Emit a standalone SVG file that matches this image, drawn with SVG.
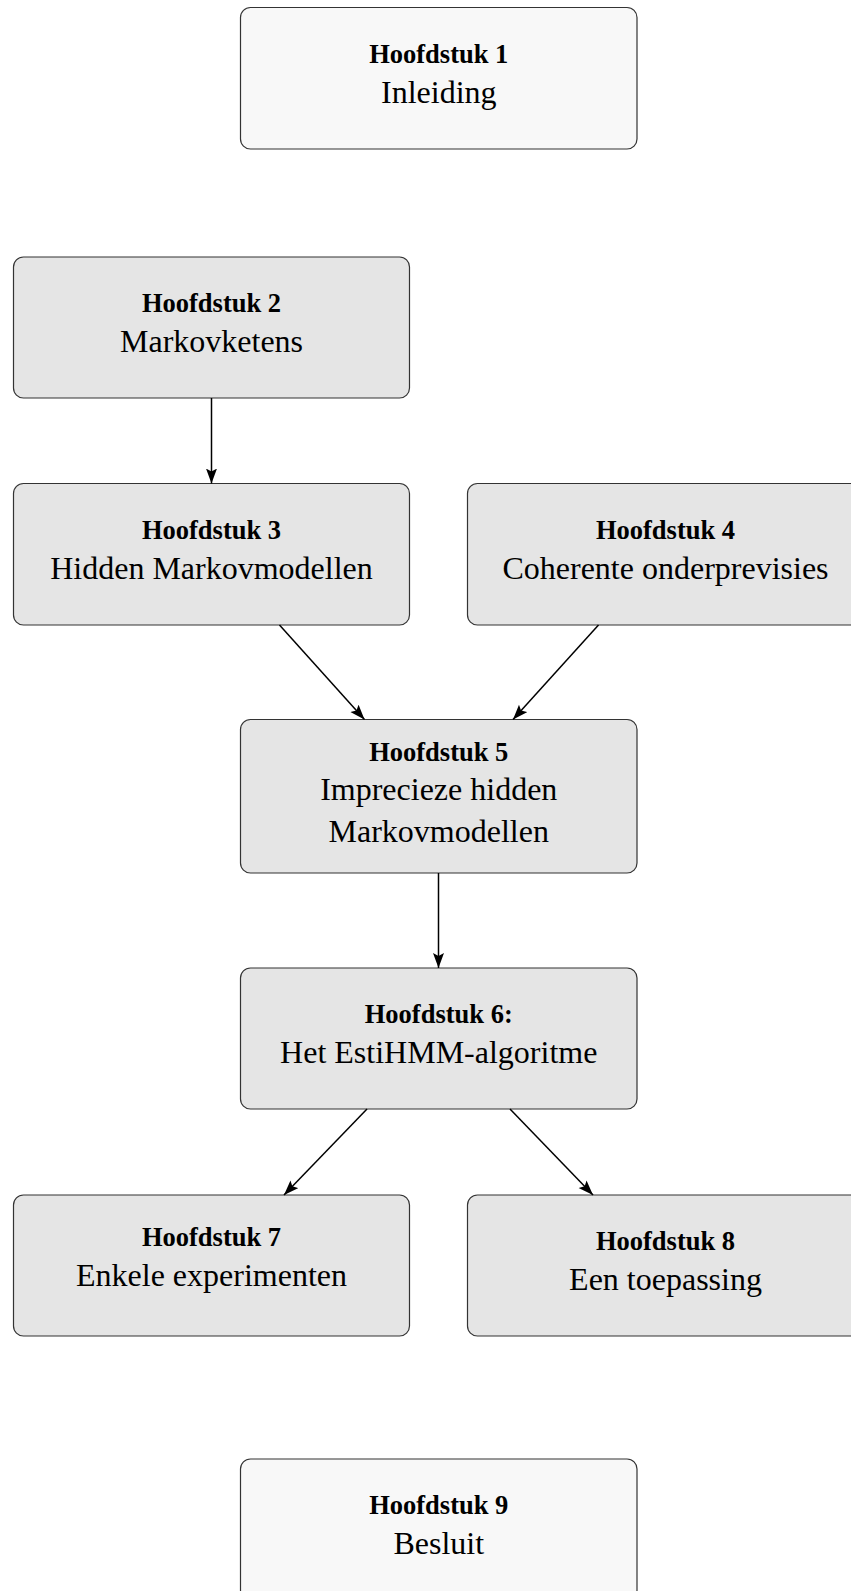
<svg xmlns="http://www.w3.org/2000/svg" width="851" height="1591" viewBox="0 0 851 1591">
<style>
.box{stroke:#333;stroke-width:1.2}
.light{fill:#f8f8f8}
.gray{fill:#e5e5e5}
.b{font-family:"Liberation Serif","Times New Roman",serif;font-weight:bold;font-size:26.5px;text-anchor:middle;fill:#000}
.r{font-family:"Liberation Serif","Times New Roman",serif;font-size:32px;text-anchor:middle;fill:#000}
.edge{stroke:#000;stroke-width:1.5;fill:none;marker-end:url(#ah)}
</style>
<defs>
<marker id="ah" markerUnits="userSpaceOnUse" markerWidth="17" markerHeight="12" refX="15" refY="5.5" orient="auto">
<path d="M0,0 L15,5.5 L0,11 L3,5.5 z" fill="#000"/>
</marker>
</defs>
<rect width="851" height="1591" fill="#fff"/>
<g id="n1"><rect class="box light" x="240.5" y="7.5" width="396.5" height="141.5" rx="10"/>
<text class="b" x="438.75" y="62.5">Hoofdstuk 1</text><text class="r" x="438.75" y="102.5">Inleiding</text></g>
<g id="n2"><rect class="box gray" x="13.5" y="257" width="396" height="141" rx="10"/>
<text class="b" x="211.5" y="312">Hoofdstuk 2</text><text class="r" x="211.5" y="352">Markovketens</text></g>
<g id="n3"><rect class="box gray" x="13.5" y="483.5" width="396" height="141.5" rx="10"/>
<text class="b" x="211.5" y="538.5">Hoofdstuk 3</text><text class="r" x="211.5" y="578.5">Hidden Markovmodellen</text></g>
<g id="n4"><rect class="box gray" x="467.5" y="483.5" width="396" height="141.5" rx="10"/>
<text class="b" x="665.5" y="538.5">Hoofdstuk 4</text><text class="r" x="665.5" y="578.5">Coherente onderprevisies</text></g>
<g id="n5"><rect class="box gray" x="240.5" y="719.5" width="396.5" height="153.5" rx="10"/>
<text class="b" x="438.75" y="760.5">Hoofdstuk 5</text><text class="r" x="438.75" y="800">Imprecieze hidden</text><text class="r" x="438.75" y="841.5">Markovmodellen</text></g>
<g id="n6"><rect class="box gray" x="240.5" y="968" width="396.5" height="141" rx="10"/>
<text class="b" x="438.75" y="1023">Hoofdstuk 6:</text><text class="r" x="438.75" y="1063">Het EstiHMM-algoritme</text></g>
<g id="n7"><rect class="box gray" x="13.5" y="1195" width="396" height="141" rx="10"/>
<text class="b" x="211.5" y="1246">Hoofdstuk 7</text><text class="r" x="211.5" y="1286">Enkele experimenten</text></g>
<g id="n8"><rect class="box gray" x="467.5" y="1195" width="396" height="141" rx="10"/>
<text class="b" x="665.5" y="1250">Hoofdstuk 8</text><text class="r" x="665.5" y="1290">Een toepassing</text></g>
<g id="n9"><rect class="box light" x="240.5" y="1459" width="396.5" height="141" rx="10"/>
<text class="b" x="438.75" y="1514">Hoofdstuk 9</text><text class="r" x="438.75" y="1554">Besluit</text></g>
<g id="connectors">
<line class="edge" x1="211.5" y1="398" x2="211.5" y2="483.5"/>
<line class="edge" x1="279.5" y1="625" x2="364.5" y2="719.5"/>
<line class="edge" x1="598.5" y1="625" x2="513" y2="719.5"/>
<line class="edge" x1="438.5" y1="873" x2="438.5" y2="968"/>
<line class="edge" x1="367" y1="1109" x2="284" y2="1195"/>
<line class="edge" x1="510" y1="1109" x2="593" y2="1195"/>
</g>
</svg>
